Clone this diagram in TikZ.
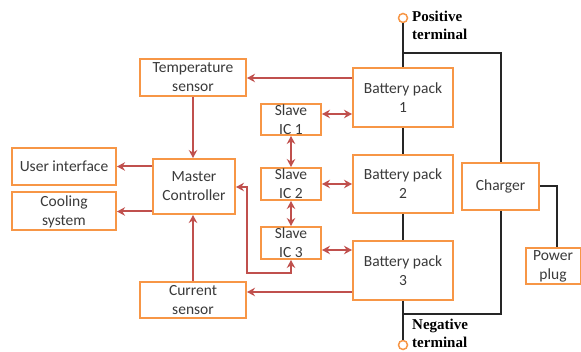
\documentclass[tikz,border=0pt]{standalone}
\usepackage{fontspec}
\setmainfont{Carlito}
\newfontfamily\termfont{Liberation Serif}
\usetikzlibrary{calc, arrows.meta}

\definecolor{boxorange}{HTML}{F79646}
\definecolor{linkred}{HTML}{C0504D}
\definecolor{txtgray}{HTML}{3A3A3A}

\begin{document}
\begin{tikzpicture}[x=1pt, y=-1pt,
  box/.style={draw=boxorange, line width=2pt, fill=white, align=center,
    inner sep=0pt, text=txtgray, font=\fontsize{15.5}{19}\selectfont},
  link/.style={draw=linkred, line width=2pt, -{Stealth[length=8pt, width=8.5pt]}},
  duplex/.style={link, {Stealth[length=8pt, width=8.5pt]}-{Stealth[length=8pt, width=8.5pt]}},
  wire/.style={draw=black!85, line width=2pt},
  term/.style={circle, draw=boxorange, line width=1.5pt, fill=white,
    inner sep=0pt, minimum size=9pt},
  termtext/.style={align=left, inner sep=0pt, anchor=north west,
    font=\termfont\bfseries\fontsize{15}{18}\selectfont}]

\useasboundingbox (0,0) rectangle (581,352);

% sensors and outputs around the master
\node[box, minimum width=106pt, minimum height=37pt] (temp) at (193,77.5) {Temperature\\sensor};
\node[box, minimum width=104pt, minimum height=37pt] (ui) at (64,166.5) {User interface};
\node[box, minimum width=104pt, minimum height=38pt] (cool) at (64,211.5) {Cooling\\system};
\node[box, minimum width=82pt, minimum height=55pt] (master) at (194,186.5) {Master\\Controller};
\node[box, minimum width=106pt, minimum height=36pt] (current) at (193,300) {Current\\sensor};

% slave ICs
\node[box, minimum width=60pt, minimum height=31pt] (slave1) at (291,119.5) {Slave\\IC 1};
\node[box, minimum width=60pt, minimum height=32pt] (slave2) at (291,184) {Slave\\IC 2};
\node[box, minimum width=60pt, minimum height=32pt] (slave3) at (291,243) {Slave\\IC 3};

% battery packs
\node[box, minimum width=100pt, minimum height=59pt] (pack1) at (403,97.5) {Battery pack\\1};
\node[box, minimum width=100pt, minimum height=58pt] (pack2) at (403,184) {Battery pack\\2};
\node[box, minimum width=100pt, minimum height=59pt] (pack3) at (403,270.5) {Battery pack\\3};

% charger and plug
\node[box, minimum width=77pt, minimum height=47pt] (charger) at (500.5,186.5) {Charger};
\node[box, minimum width=55pt, minimum height=36pt] (plug) at (553,266) {Power\\plug};

% terminals
\node[term] (posterm) at (403,18) {};
\node[term] (negterm) at (403,345) {};
\node[termtext] (postext) at (412,11) {Positive\\terminal};
\node[termtext] (negtext) at (412,319) {Negative\\terminal};

% power wiring
\coordinate (topjoin) at (403,53);
\coordinate (botjoin) at (403,314);
\coordinate (plugbend) at (557,186.5);
\draw[wire] (posterm) -- (pack1.north);
\draw[wire] (topjoin) -| (charger.north);
\draw[wire] (pack1.south) -- (pack2.north);
\draw[wire] (pack2.south) -- (pack3.north);
\draw[wire] (pack3.south) -- (negterm);
\draw[wire] (botjoin) -| (charger.south);
\draw[wire] (charger.east) -- (plugbend) -- (plugbend |- plug.north);

% signals to and from the master
\draw[link] (pack1.west |- 0,78) -- (temp.east |- 0,78);
\draw[link] (temp.south) -- (temp.south |- master.north);
\draw[link] (master.west |- ui.east) -- (ui.east);
\draw[link] (master.west |- cool.east) -- (cool.east);
\draw[link] (current.north) -- (current.north |- master.south);
\draw[link] (pack3.west |- 0,292) -- (current.east |- 0,292);

% slave ICs to packs
\draw[duplex] (slave1.east |- 0,114) -- (pack1.west |- 0,114);
\draw[duplex] (slave2.east) -- (pack2.west |- slave2.east);
\draw[duplex] (slave3.east |- 0,250) -- (pack3.west |- 0,250);
\draw[duplex] (slave1.south) -- (slave2.north);
\draw[duplex] (slave2.south) -- (slave3.north);

% daisy chain back to the master
\coordinate (chain) at (247,273);
\draw[duplex] (slave3.south) -- (slave3.south |- chain) -- (chain) -- (chain |- 0,187) -- (master.east |- 0,187);

\end{tikzpicture}
\end{document}
